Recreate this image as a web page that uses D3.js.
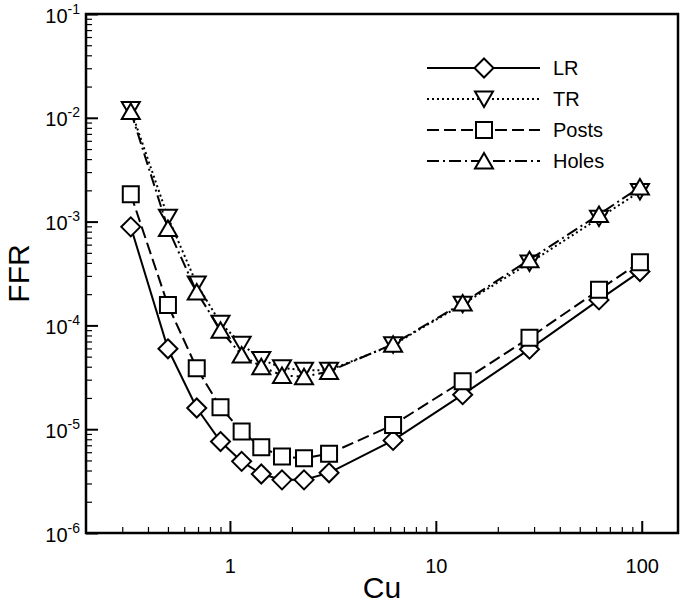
<!DOCTYPE html>
<html><head><meta charset="utf-8">
<script src="https://cdn.jsdelivr.net/npm/d3@7"></script>
<style>body{margin:0;background:#fff} svg{display:block;font-family:"Liberation Sans",Arial,Helvetica,sans-serif}</style>
</head><body><svg id="c" width="685" height="604"></svg>
<script>
// ---- data ----
const cu    = [0.33, 0.5, 0.69, 0.9, 1.14, 1.42, 1.79, 2.29, 3.03, 6.2, 13.5, 28.5, 62, 98];
const lr    = [8.9e-4, 5.95e-5, 1.6e-5, 7.6e-6, 4.9e-6, 3.7e-6, 3.25e-6, 3.25e-6, 3.8e-6, 7.8e-6, 2.15e-5, 5.9e-5, 1.76e-4, 3.3e-4];
const tr    = [1.2e-2, 1.1e-3, 2.5e-4, 1.05e-4, 6.6e-5, 4.7e-5, 3.9e-5, 3.7e-5, 3.7e-5, 6.5e-5, 1.6e-4, 4.0e-4, 1.08e-3, 1.95e-3];
const posts = [1.83e-3, 1.57e-4, 3.86e-5, 1.63e-5, 9.5e-6, 6.7e-6, 5.45e-6, 5.25e-6, 5.8e-6, 1.1e-5, 2.9e-5, 7.6e-5, 2.2e-4, 4.05e-4];
const holes = [1.15e-2, 8.6e-4, 2.1e-4, 9e-5, 5.2e-5, 4.0e-5, 3.3e-5, 3.2e-5, 3.6e-5, 6.6e-5, 1.64e-4, 4.3e-4, 1.17e-3, 2.15e-3];
const seriesNames = ["LR", "TR", "Posts", "Holes"];
const xTickValues = [1, 10, 100];
const xTickLabels = ["1", "10", "100"];
const yTickValues = [1e-6, 1e-5, 1e-4, 1e-3, 1e-2, 1e-1];
const yTickExponents = ["-6", "-5", "-4", "-3", "-2", "-1"];
const xTitle = "Cu", yTitle = "FFR";

// ---- layout ----
const L = 86, R = 678, T = 14, B = 533;
const svg = d3.select("#c");
const x = d3.scaleLog().domain([0.2, 150]).range([L, R]);
const y = d3.scaleLog().domain([1e-6, 1e-1]).range([B, T]);

// minor ticks
const xMinor = [];
for (let d = 0.1; d < 100; d *= 10) for (let k = 2; k <= 9; k++) { const v = +(k * d).toPrecision(3); if (v > 0.2 && v < 150) xMinor.push(v); }
const yMinor = [];
for (let d = 1e-6; d < 1e-1; d *= 10) for (let k = 2; k <= 9; k++) yMinor.push(+(k * d).toPrecision(3));

function styleAxis(g, w) { g.select(".domain").remove(); g.selectAll("line").attr("stroke", "#000").attr("stroke-width", w); }

svg.append("g").attr("transform", `translate(0,${B})`)
  .call(d3.axisBottom(x).tickValues(xMinor).tickSizeInner(-6).tickSizeOuter(0).tickFormat(""))
  .call(g => styleAxis(g, 1.2));
const gx = svg.append("g").attr("transform", `translate(0,${B})`)
  .call(d3.axisBottom(x).tickValues(xTickValues).tickSizeInner(-12).tickSizeOuter(0).tickPadding(26)
        .tickFormat((d, i) => xTickLabels[i]))
  .call(g => styleAxis(g, 2));
gx.selectAll("text").attr("fill", "#000").attr("font-size", 20).attr("font-family", null);

svg.append("g").attr("transform", `translate(${L},0)`)
  .call(d3.axisLeft(y).tickValues(yMinor).tickSizeInner(-6).tickSizeOuter(0).tickFormat(""))
  .call(g => styleAxis(g, 1.2));
const gy = svg.append("g").attr("transform", `translate(${L},0)`)
  .call(d3.axisLeft(y).tickValues(yTickValues).tickSizeInner(-12).tickSizeOuter(0).tickFormat(""))
  .call(g => styleAxis(g, 2));
gy.selectAll(".tick").each(function (d, i) {
  const t = d3.select(this).append("text").attr("x", -6).attr("y", 8)
    .attr("text-anchor", "end").attr("fill", "#000").attr("font-size", 20);
  t.append("tspan").text("10");
  t.append("tspan").attr("font-size", 14).attr("dy", -9).text(yTickExponents[i]);
});

// frame
svg.append("rect").attr("x", L).attr("y", T).attr("width", R - L).attr("height", B - T)
  .attr("fill", "none").attr("stroke", "#000").attr("stroke-width", 2.5);

// titles
svg.append("text").attr("x", (L + R) / 2).attr("y", 598).attr("text-anchor", "middle")
  .attr("font-size", 30).text(xTitle);
svg.append("text").attr("transform", `translate(29,${(T + B) / 2}) rotate(-90)`).attr("text-anchor", "middle")
  .attr("font-size", 30).text(yTitle);

// markers
const shapes = {
  diamond: "M0,-9.5L9.5,0L0,9.5L-9.5,0Z",
  down: "M-9,-7.5L9,-7.5L0,8Z",
  square: "M-8,-8H8V8H-8Z",
  up: "M0,-8L9,7.5L-9,7.5Z"
};
const series = [
  { name: seriesNames[0], vals: lr, dash: null, shape: shapes.diamond },
  { name: seriesNames[1], vals: tr, dash: "2,3", shape: shapes.down },
  { name: seriesNames[2], vals: posts, dash: "12,5", shape: shapes.square },
  { name: seriesNames[3], vals: holes, dash: "12,4,2,4", shape: shapes.up }
];
const line = d3.line().x(d => x(d[0])).y(d => y(d[1]));
series.forEach(s => {
  const pts = cu.map((c, i) => [c, s.vals[i]]);
  svg.append("path").attr("d", line(pts)).attr("fill", "none").attr("stroke", "#000")
    .attr("stroke-width", 2).attr("stroke-dasharray", s.dash);
  svg.append("g").selectAll("path").data(pts).join("path")
    .attr("transform", d => `translate(${x(d[0])},${y(d[1])})`)
    .attr("d", s.shape).attr("fill", "#fff").attr("stroke", "#000").attr("stroke-width", 2);
});

// legend
const lg = svg.append("g");
series.forEach((s, i) => {
  const yy = 68 + i * 31;
  lg.append("line").attr("x1", 427).attr("x2", 540).attr("y1", yy).attr("y2", yy)
    .attr("stroke", "#000").attr("stroke-width", 2).attr("stroke-dasharray", s.dash);
  lg.append("path").attr("transform", `translate(484,${yy})`).attr("d", s.shape)
    .attr("fill", "#fff").attr("stroke", "#000").attr("stroke-width", 2);
  lg.append("text").attr("x", 553).attr("y", yy + 7).attr("font-size", 20).text(s.name);
});
</script></body></html>
